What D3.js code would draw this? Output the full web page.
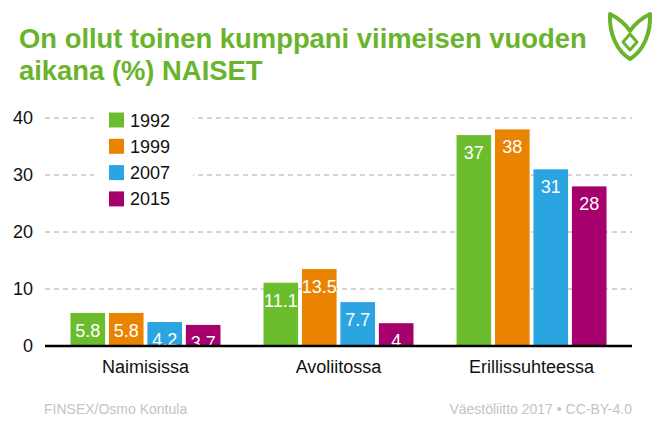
<!DOCTYPE html>
<html><head><meta charset="utf-8">
<script src="https://cdn.jsdelivr.net/npm/d3@7"></script>
<style>body{margin:0;background:#fff;}svg{display:block;font-family:"Liberation Sans",Arial,sans-serif;}</style>
</head><body><svg id="c" width="662" height="440"></svg>
<script>
const categories = ["Naimisissa", "Avoliitossa", "Erillissuhteessa"];
const years = ["1992", "1999", "2007", "2015"];
const v1992 = [5.8, 11.1, 37];
const v1999 = [5.8, 13.5, 38];
const v2007 = [4.2, 7.7, 31];
const v2015 = [3.7, 4, 28];
const yTicks = [0, 10, 20, 30, 40];
const colors = ["#6cbd2d", "#ea8400", "#2aa5e1", "#a5006b"];
const titleLines = ["On ollut toinen kumppani viimeisen vuoden", "aikana (%) NAISET"];
const sourceLeft = "FINSEX/Osmo Kontula";
const sourceRight = "Väestöliitto 2017 • CC-BY-4.0";

const series = [v1992, v1999, v2007, v2015];
const svg = d3.select("#c");
const x0 = d3.scaleBand().domain(categories).range([45, 632]).paddingInner(0.223).paddingOuter(0.132);
const x1 = d3.scaleBand().domain(years).range([0, x0.bandwidth()]).paddingInner(0.1);
const y = d3.scaleLinear().domain([0, 40]).range([346, 118]);

// title
svg.append("g").selectAll("text").data(titleLines).join("text")
  .attr("x", 19).attr("y", (d, i) => 48 + i * 32)
  .attr("fill", "#6ab42d").attr("font-size", 27.4).attr("font-weight", "bold").text(d => d);

// logo
const lg = svg.append("g").attr("transform", "translate(630,36)").attr("fill", "none").attr("stroke", "#6ab42d").attr("stroke-width", 4).attr("stroke-linejoin", "round");
lg.append("path").attr("d", "M-20,-22 C-10,-17 -4,-11 0,-5 C4,-11 10,-17 20,-22 C21,-2 13,15 0,23 C-13,15 -21,-2 -20,-22 Z");
lg.append("path").attr("d", "M0,-2 L7,6 L0,14 L-7,6 Z").attr("stroke-width", 3);

// gridlines
svg.append("g").selectAll("line").data(yTicks.filter(d => d > 0)).join("line")
  .attr("x1", 45).attr("x2", 632).attr("y1", d => y(d)).attr("y2", d => y(d))
  .attr("stroke", "#a8a8a8").attr("stroke-width", 1).attr("stroke-dasharray", "5,4");

// y axis labels
const yAxis = d3.axisLeft(y).tickValues(yTicks).tickSize(0).tickPadding(12);
const ya = svg.append("g").attr("transform", "translate(45,0)").call(yAxis);
ya.select(".domain").remove();
ya.selectAll("text").attr("font-size", 18).attr("fill", "#111").attr("font-family", "Liberation Sans, Arial, sans-serif");

// bars
svg.append("clipPath").attr("id", "plotclip").append("rect").attr("x", 0).attr("y", 0).attr("width", 662).attr("height", 346);
const groups = svg.append("g").attr("clip-path", "url(#plotclip)").selectAll("g").data(categories).join("g")
  .attr("transform", d => `translate(${x0(d)},0)`);
groups.selectAll("rect").data((d, i) => years.map((yr, j) => ({yr, j, v: series[j][i]}))).join("rect")
  .attr("x", d => x1(d.yr)).attr("width", x1.bandwidth())
  .attr("y", d => y(d.v)).attr("height", d => y(0) - y(d.v))
  .attr("fill", d => colors[d.j]);
groups.selectAll("text").data((d, i) => years.map((yr, j) => ({yr, j, v: series[j][i]}))).join("text")
  .attr("x", d => x1(d.yr) + x1.bandwidth() / 2).attr("y", d => y(d.v) + 24)
  .attr("text-anchor", "middle").attr("fill", "#fff").attr("font-size", 18).text(d => d.v);

// baseline
svg.append("line").attr("x1", 45).attr("x2", 632).attr("y1", y(0)).attr("y2", y(0)).attr("stroke", "#000").attr("stroke-width", 2.5);

// category labels
const xAxis = d3.axisBottom(x0).tickSize(0).tickPadding(14);
const xa = svg.append("g").attr("transform", `translate(0,${y(0)})`).call(xAxis);
xa.select(".domain").remove();
xa.selectAll("text").attr("font-size", 18).attr("fill", "#111").attr("font-family", "Liberation Sans, Arial, sans-serif");

// legend
const leg = svg.append("g");
leg.append("rect").attr("x", 94).attr("y", 106).attr("width", 99).attr("height", 108).attr("fill", "#fff");
const li = leg.selectAll("g").data(years).join("g").attr("transform", (d, i) => `translate(109,${120 + i * 26.3})`);
li.append("rect").attr("x", 0).attr("y", -7.5).attr("width", 15).attr("height", 15).attr("fill", (d, i) => colors[i]);
li.append("text").attr("x", 21).attr("y", 6.5).attr("font-size", 18).attr("fill", "#111").text(d => d);

// source
svg.append("text").attr("x", 44).attr("y", 414).attr("font-size", 14).attr("fill", "#c4c4c4").text(sourceLeft);
svg.append("text").attr("x", 632).attr("y", 414).attr("text-anchor", "end").attr("font-size", 14).attr("fill", "#c4c4c4").text(sourceRight);
</script></body></html>
